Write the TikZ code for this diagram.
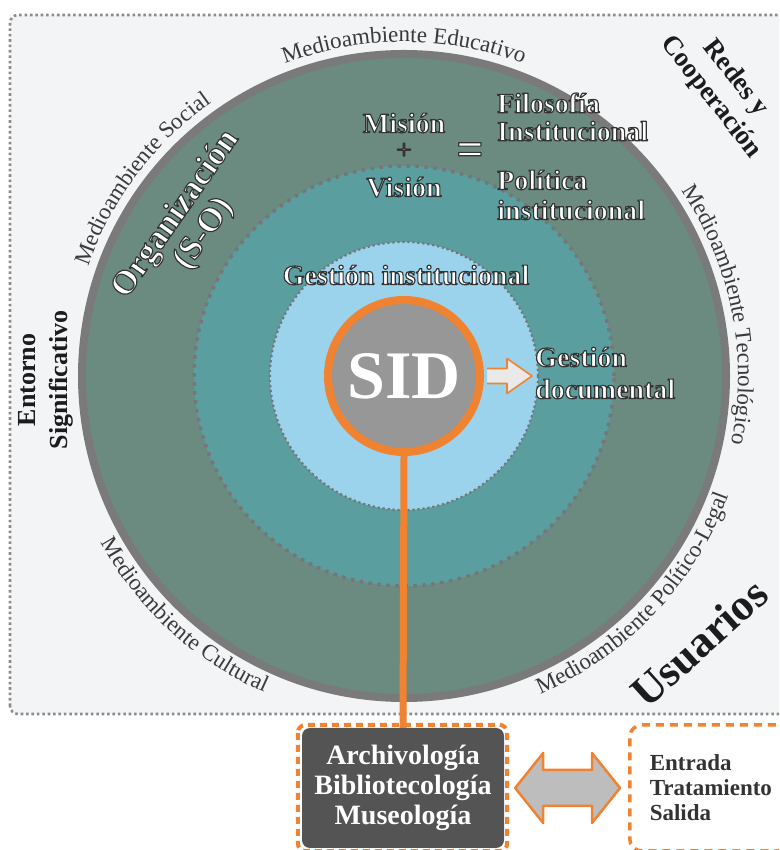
\documentclass[tikz,border=0pt]{standalone}
\usepackage{fontspec}
\setmainfont{Liberation Serif}
\usetikzlibrary{decorations.text,calc}
\definecolor{panelbg}{HTML}{F3F4F6}
\definecolor{panelline}{HTML}{8C8C8C}
\definecolor{ringgray}{HTML}{7A7A7A}
\definecolor{greenring}{HTML}{6B8B80}
\definecolor{tealc}{HTML}{5A9E9F}
\definecolor{lightblue}{HTML}{9CD3EC}
\definecolor{sidgray}{HTML}{979797}
\definecolor{orangec}{HTML}{EF8332}
\definecolor{dotgray}{HTML}{75757A}
\definecolor{discgray}{HTML}{545454}
\definecolor{arrowgray}{HTML}{BDBDBD}
\definecolor{arrowlight}{HTML}{E9E9E9}
\definecolor{envtext}{HTML}{3A3A3A}
\definecolor{darktext}{HTML}{1C1C1C}
\definecolor{proctext}{HTML}{333333}
% white letters with a dark outline (fill + stroke text rendering)
\newcommand\wt[1]{\special{pdf:literal direct 0.2 0.2 0.2 RG 1.15 w 1 j 2 Tr}#1\special{pdf:literal direct 0 Tr}}
\newcommand\envfont{\fontsize{23}{25}\selectfont}
\tikzset{
  panelstyle/.style={draw=panelline, fill=panelbg, line width=2.6, dash pattern=on 2.6 off 2.8, rounded corners=8},
  ringnode/.style={circle, inner sep=0},
  envpath/.style={decorate, decoration={text along path, text align=center, text color=envtext, text={|\envfont|#1}}},
  whitetext/.style={inner sep=0, text=white, align=center},
  blacktext/.style={inner sep=0, text=darktext, align=center, font=\bfseries\fontsize{26}{30}\selectfont},
  discbox/.style={rounded corners=8, fill=discgray, minimum width=202, minimum height=120, inner sep=0, text=white, align=center, font=\bfseries\fontsize{28}{30}\selectfont},
  discframe/.style={draw=orangec, line width=4, dash pattern=on 7 off 5, rounded corners=8},
  procbox/.style={draw=orangec, line width=3.5, dash pattern=on 8 off 6, rounded corners=12, minimum width=200, minimum height=126, text width=160, inner xsep=20, inner ysep=0, align=left, text=proctext, font=\bfseries\fontsize{23}{25}\selectfont},
  dblarrow/.style={fill=arrowgray, draw=orangec, line width=2.5, line join=round},
  sidarrow/.style={fill=arrowlight, draw=orangec, line width=1.6, line join=round},
  linkline/.style={draw=orangec, line width=7}
}
\begin{document}
\begin{tikzpicture}[x=1pt,y=1pt]
\useasboundingbox (0,0) rectangle (779,850);
\clip (0,0) rectangle (779,850);
\fill[white] (0,0) rectangle (779,850);
% panel
\path[panelstyle] (10,136) rectangle (820,835);
\coordinate (C) at (404,474);
% rings
\node[ringnode, fill=greenring, draw=ringgray, line width=8, minimum size=644] (org) at (C) {};
\node[ringnode, fill=tealc, draw=dotgray, line width=3.5, dash pattern=on 3.5 off 5.5, minimum size=420] (pol) at (C) {};
\node[ringnode, fill=lightblue, draw=dotgray, line width=2.2, dash pattern=on 2.2 off 2.8, minimum size=268] (gest) at (C) {};
% environment labels
\path[envpath={Medioambiente Educativo}] ($(C)+(130:334)$) arc[start angle=130, end angle=50, radius=334];
\path[envpath={Medioambiente Social}] ($(C)+(180:334)$) arc[start angle=180, end angle=106, radius=334];
\path[envpath={Medioambiente Tecnológico}] ($(C)+(48:334)$) arc[start angle=48, end angle=-26, radius=334];
\path[envpath={Medioambiente Político-Legal}] ($(C)+(-87:346)$) arc[start angle=-87, end angle=0, radius=346];
\path[envpath={Medioambiente Cultural}] ($(C)+(185:346)$) arc[start angle=185, end angle=270, radius=346];
% bottom boxes
\node[discbox] (disc) at (403,62) {Archivología\\Bibliotecología\\Museología};
\path[discframe] ([shift={(-4,3)}]disc.north west) rectangle ([shift={(3,-3)}]disc.south east);
\node[procbox, anchor=west] (proc) at (628,62) {Entrada\\Tratamiento\\Salida};
% SID
\node[ringnode, fill=sidgray, draw=orangec, line width=8, minimum size=152, text=white, font=\bfseries\fontsize{68}{68}\selectfont] (sid) at (C) {SID};
\draw[linkline] (sid.south) -- (disc.north);
\coordinate (sa) at ($(sid.east)+(3,0)$);
\filldraw[sidarrow] ($(sa)+(0,7.5)$) -- ($(sa)+(20,7.5)$) -- ($(sa)+(20,17.5)$) -- ($(sa)+(45,0)$) -- ($(sa)+(20,-17.5)$) -- ($(sa)+(20,-7.5)$) -- ($(sa)+(0,-7.5)$);
% double arrow
\coordinate (la) at ($(disc.east)+(11,0)$);
\coordinate (ra) at ($(proc.west)+(-8,0)$);
\filldraw[dblarrow] (la) -- ($(la)+(28,35)$) -- ($(la)+(28,18)$) -- ($(ra)+(-28,18)$) -- ($(ra)+(-28,35)$) -- (ra) -- ($(ra)+(-28,-35)$) -- ($(ra)+(-28,-18)$) -- ($(la)+(28,-18)$) -- ($(la)+(28,-35)$) -- cycle;
% white outlined labels
\node[whitetext, font=\bfseries\fontsize{28}{30}\selectfont] (mision) at (404,727) {\wt{Misión}};
\node[whitetext, font=\fontsize{28}{28}\selectfont] (plus) at (404,699) {\wt{+}};
\node[whitetext, font=\bfseries\fontsize{28}{30}\selectfont] (vision) at (404,663) {\wt{Visión}};
\node[whitetext, font=\bfseries\fontsize{48}{48}\selectfont] (eq) at (470,696) {\wt{=}};
\node[whitetext, anchor=west, align=left, font=\bfseries\fontsize{28}{28}\selectfont] (filo) at (497,733) {\wt{Filosofía}\\\wt{Institucional}};
\node[whitetext, anchor=west, align=left, font=\bfseries\fontsize{28}{30}\selectfont] (poli) at (497,655) {\wt{Política}\\\wt{institucional}};
\node[whitetext, font=\bfseries\fontsize{28}{30}\selectfont] (gi) at (406,575) {\wt{Gestión institucional}};
\node[whitetext, anchor=west, align=left, font=\bfseries\fontsize{28}{32}\selectfont] (gd) at (535,477) {\wt{Gestión}\\\wt{documental}};
\node[whitetext, rotate=55, font=\bfseries\fontsize{34}{34}\selectfont] (orgl) at (190,626) {\wt{Organización}\\\wt{(S-O)}};
% black labels
\node[blacktext, rotate=90, font=\bfseries\fontsize{26}{32}\selectfont] (ent) at (46,470) {Entorno\\Significativo};
\node[blacktext, rotate=-52, font=\bfseries\fontsize{27}{31}\selectfont] (redes) at (723,762) {Redes y\\Cooperación};
\node[blacktext, rotate=42, font=\bfseries\fontsize{44}{44}\selectfont] (usu) at (699,207) {Usuarios};
\end{tikzpicture}
\end{document}
